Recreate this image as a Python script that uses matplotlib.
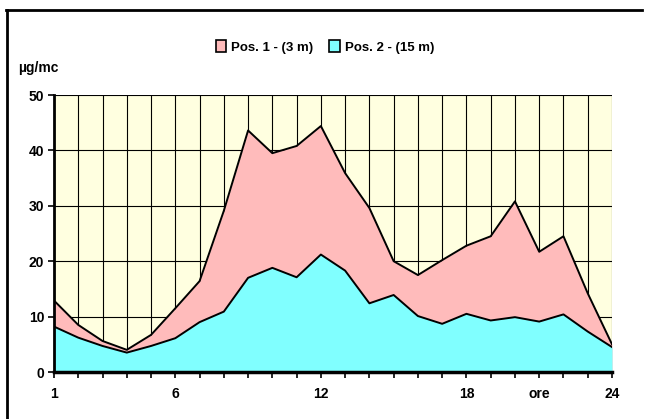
import matplotlib.pyplot as plt
from matplotlib.patches import Patch
from matplotlib.lines import Line2D

plt.rcParams["font.family"] = ["Liberation Sans", "DejaVu Sans"]
plt.rcParams["font.weight"] = "bold"

hours = list(range(1, 25))
pos1 = [12.9, 8.5, 5.6, 4.0, 6.7, 11.5, 16.4, 29.1, 43.6, 39.5, 40.8, 44.4,
        35.9, 29.6, 20.0, 17.5, 20.2, 22.8, 24.5, 30.8, 21.7, 24.5, 14.2, 5.0]
pos2 = [8.2, 6.2, 4.7, 3.5, 4.7, 6.1, 9.0, 10.9, 17.0, 18.8, 17.1, 21.2,
        18.3, 12.4, 13.9, 10.1, 8.7, 10.5, 9.3, 9.9, 9.1, 10.4, 7.3, 4.5]
labels = {1: "1", 6: "6", 12: "12", 18: "18", 21: "ore", 24: "24"}
series_names = ["Pos. 1 - (3 m)", "Pos. 2 - (15 m)"]

pink = "#ffbbbb"
cyan = "#80ffff"

fig = plt.figure(figsize=(6.47, 4.19), dpi=100)
ax = fig.add_axes([54 / 647, 1 - 372 / 419, (612 - 54) / 647, (372 - 95) / 419])
ax.set_facecolor("#ffffe0")

ax.fill_between(hours, 0, pos1, color=pink, zorder=2, lw=0)
ax.plot(hours, pos1, color="black", lw=1.4, zorder=3)
ax.fill_between(hours, 0, pos2, color=cyan, zorder=4, lw=0)
ax.plot(hours, pos2, color="black", lw=1.4, zorder=5)

ax.set_xlim(1, 24)
ax.set_ylim(0, 50)
ax.set_xticks(hours)
ax.set_xticklabels([labels.get(h, "") for h in hours])
ax.set_yticks(range(0, 51, 10))
ax.grid(True, color="black", lw=0.8, zorder=1)
ax.set_axisbelow(True)

for s in ["top", "right"]:
    ax.spines[s].set_visible(False)
ax.spines["left"].set_linewidth(2)
ax.spines["bottom"].set_linewidth(2.5)
ax.spines["left"].set_zorder(6)
ax.spines["bottom"].set_zorder(6)
ax.tick_params(axis="x", length=4, width=1.2, pad=7, labelsize=10)
ax.tick_params(axis="y", length=4, width=1.2, pad=3, labelsize=10)
for t in ax.get_xticklabels() + ax.get_yticklabels():
    t.set_fontweight("bold")

fig.text(18 / 647, 1 - 68 / 419, "µg/mc", fontsize=10, fontweight="bold", va="center")

handles = [Patch(facecolor=pink, edgecolor="black", lw=1.2),
           Patch(facecolor=cyan, edgecolor="black", lw=1.2)]
leg = fig.legend(handles, series_names, loc="center", bbox_to_anchor=(325 / 647, 1 - 47 / 419),
                 ncol=2, frameon=False, handlelength=0.8, handleheight=1.0,
                 handletextpad=0.4, columnspacing=1.2, prop={"weight": "bold", "size": 9.5})

# figure border: top and left only
fig.add_artist(Line2D([6 / 647, 642 / 647], [1 - 10.5 / 419, 1 - 10.5 / 419], color="black", lw=2, transform=fig.transFigure))
fig.add_artist(Line2D([6.5 / 647, 6.5 / 647], [1 - 10 / 419, 0], color="black", lw=2, transform=fig.transFigure))

fig.savefig("out.png", dpi=100)
